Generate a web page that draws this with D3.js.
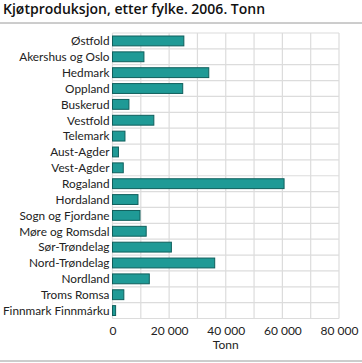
<!DOCTYPE html>
<html><head><meta charset="utf-8">
<script src="https://cdn.jsdelivr.net/npm/d3@7"></script>
<style>body{margin:0;background:#fff}svg{display:block;font-family:Lato,sans-serif}</style>
</head><body><svg id="c" width="362" height="363"></svg>
<script>
const categories = ["Østfold","Akershus og Oslo","Hedmark","Oppland","Buskerud","Vestfold","Telemark","Aust-Agder","Vest-Agder","Rogaland","Hordaland","Sogn og Fjordane","Møre og Romsdal","Sør-Trøndelag","Nord-Trøndelag","Nordland","Troms Romsa","Finnmark Finnmárku"];
const values = [25200,11100,34000,24800,5800,14600,4400,2100,3800,60600,9000,9700,11900,20800,36100,13000,4000,1100];
const xTicks = [0,20000,40000,60000,80000];
const gridTicks = [0,10000,20000,30000,40000,50000,60000,70000,80000];
const title = "Kjøtproduksjon, etter fylke. 2006. Tonn";
const xTitle = "Tonn";

const svg = d3.select("#c");
const m = {l:112.5, r:339, t:33, b:318.5};
const x = d3.scaleLinear().domain([0,80000]).range([m.l,m.r]);
const yb = d3.scaleBand().domain(categories).range([m.t,m.b]);

svg.append("text").attr("x",3).attr("y",14).attr("font-size",14).attr("font-weight",600)
  .attr("font-family","Open Sans, sans-serif").attr("fill","#111").text(title);
svg.append("line").attr("x1",0).attr("x2",362).attr("y1",23).attr("y2",23).attr("stroke","#9a9a9a");
svg.append("line").attr("x1",0).attr("x2",362).attr("y1",361).attr("y2",361).attr("stroke","#9a9a9a");

const g = svg.append("g");
g.selectAll(".vg").data(gridTicks).join("line")
  .attr("x1",d=>x(d)).attr("x2",d=>x(d)).attr("y1",m.t).attr("y2",m.b)
  .attr("stroke","#dcdcdc").attr("stroke-width",1.2);
const hb = categories.map(c=>yb(c)).concat([m.b]);
g.selectAll(".hg").data(hb).join("line")
  .attr("x1",m.l).attr("x2",m.r).attr("y1",d=>d).attr("y2",d=>d)
  .attr("stroke","#dcdcdc").attr("stroke-width",1.2);

g.selectAll(".bar").data(values).join("rect")
  .attr("x",x(0)).attr("y",(d,i)=>yb(categories[i])+3)
  .attr("width",d=>x(d)-x(0)).attr("height",yb.bandwidth()-6)
  .attr("fill","#1f9a96").attr("stroke","#0f5f5c").attr("stroke-width",1);

g.selectAll(".yl").data(categories).join("text")
  .attr("x",m.l-3).attr("y",d=>yb(d)+yb.bandwidth()/2+4.3)
  .attr("text-anchor","end").attr("font-size",11.8).attr("fill","#222").text(d=>d);

const fmt = d=>d3.format(",")(d).replace(/,/g,"\u00a0");
const xa = svg.append("g").attr("transform",`translate(0,${m.b})`)
  .call(d3.axisBottom(x).tickValues(xTicks).tickSize(0).tickPadding(8).tickFormat(fmt));
xa.select(".domain").remove();
xa.selectAll("text").attr("font-size",12).attr("fill","#222").attr("font-family","Lato, sans-serif");
svg.append("text").attr("x",x(40000)).attr("y",349).attr("text-anchor","middle").attr("font-size",12).attr("fill","#222").text(xTitle);
</script></body></html>
